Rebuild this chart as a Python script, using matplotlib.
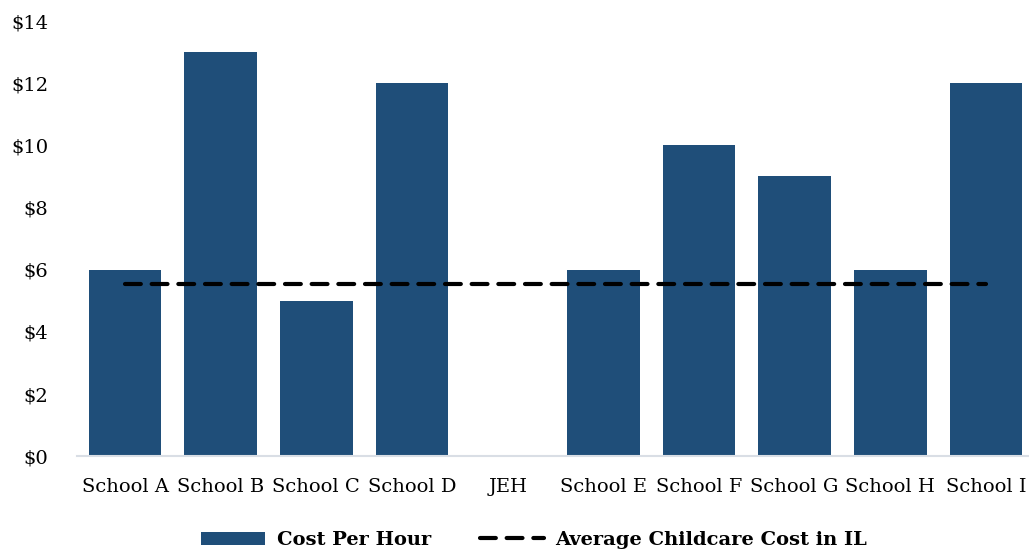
import matplotlib.pyplot as plt
import numpy as np

schools = ['School A', 'School B', 'School C', 'School D', 'JEH',
           'School E', 'School F', 'School G', 'School H', 'School I']
cost_per_hour = [6, 13, 5, 12, 0, 6, 10, 9, 6, 12]
avg_il_cost = 5.55
yticks = [0, 2, 4, 6, 8, 10, 12, 14]

plt.rcParams['font.family'] = ['DejaVu Serif']

fig = plt.figure(figsize=(10.29, 5.55), dpi=100)
ax = fig.add_axes([0.075, 0.178, 0.925, 0.784])

x = np.arange(len(schools))
bars = ax.bar(x, cost_per_hour, width=0.76, color='#1F4E79', label='Cost Per Hour', zorder=2)
line, = ax.plot([x[0], x[-1]], [avg_il_cost, avg_il_cost], color='black', linewidth=3,
                linestyle=(0, (3.8, 2.6)), dash_capstyle='round',
                label='Average Childcare Cost in IL', zorder=3)

ax.set_xlim(-0.5, 9.45)
ax.set_ylim(0, 14)
ax.set_yticks(yticks)
ax.set_yticklabels(['$%d' % v for v in yticks], fontsize=14)
ax.set_xticks(x)
ax.set_xticklabels(schools, fontsize=14)
ax.tick_params(axis='x', length=0, pad=16)
ax.tick_params(axis='y', length=0, pad=21)

for s in ['top', 'right', 'left']:
    ax.spines[s].set_visible(False)
ax.spines['bottom'].set_color('#D9DEE5')
ax.spines['bottom'].set_linewidth(1.5)

ax.legend([bars, line], ['Cost Per Hour', 'Average Childcare Cost in IL'],
          loc='center', bbox_to_anchor=(0.48, -0.193), ncol=2, frameon=False,
          prop={'weight': 'bold', 'size': 14}, handlelength=3.3,
          handletextpad=0.6, columnspacing=2.5)

fig.savefig('out.png', dpi=100)
